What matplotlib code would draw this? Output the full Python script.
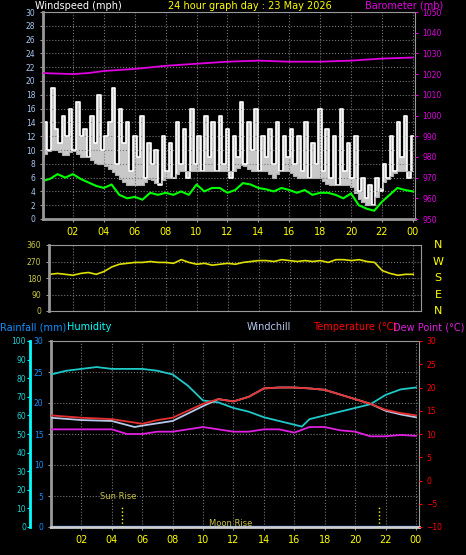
import matplotlib.pyplot as plt
import numpy as np

W, H = 466, 555

# ---- data ----
hours_lbl = ['02', '04', '06', '08', '10', '12', '14', '16', '18', '20', '22', '00']

gust = [12, 14, 10, 19, 13, 11, 15, 12, 16, 10, 17, 12,
        13, 9, 15, 11, 18, 10, 12, 14, 19, 8, 16, 11,
        14, 7, 12, 9, 15, 6, 11, 8,
        10, 5, 12, 7, 11, 6, 14, 8,
        13, 6, 16, 8, 12, 7, 15, 9,
        14, 7, 15, 8, 13, 6, 12, 9,
        17, 8, 14, 10, 16, 7, 12, 9,
        13, 8, 14, 7, 12, 9, 13, 8,
        12, 7, 14, 6, 11, 8, 16, 7,
        13, 6, 12, 5, 16, 7, 11, 6,
        12, 4, 6, 3, 5, 2, 6, 4,
        8, 6, 12, 7, 14, 9, 15, 6, 12]
# lower edge of the white gust band, half-hourly
gust_low = [9, 10, 10, 9, 10, 9, 9, 8, 8, 7, 6, 5, 5, 5, 6, 5, 6, 6, 7, 7, 7, 7, 7, 7,
            7, 7, 8, 7, 7, 7, 6, 7, 7, 6, 6, 6, 6, 5, 5, 5, 5, 3, 2, 2, 5, 6, 7, 7, 7]
wind_avg = [5.5, 5.8, 6.5, 6, 6.5, 5.8, 5.3, 4.8, 4.5, 5, 3.5, 3, 3.2, 2.8, 3.8, 3.5,
            3.8, 3.5, 4, 3.5, 5, 4, 4.5, 4.5, 3.8, 4.2, 5.2, 5, 4.5, 4.3, 4, 4.5,
            4.2, 3.8, 4.2, 3.5, 3.8, 3.8, 3.5, 3, 3.7, 2, 1.5, 1.2, 2.5, 3.5, 4.5, 4.2, 4]
baro_h = [0, 2, 3, 4, 6, 8, 10, 12, 14, 16, 18, 20, 22, 24]
baro = [1020.5, 1020, 1020.5, 1021.5, 1022.5, 1024, 1025, 1026, 1026.5, 1026, 1026, 1026.5, 1027.5, 1028]

wdir = [190, 200, 205, 200, 195, 205, 210, 200, 215, 240, 255, 260, 265, 265, 270, 265,
        265, 260, 280, 265, 255, 260, 250, 255, 260, 255, 265, 270, 275, 275, 270, 280,
        275, 270, 275, 270, 275, 265, 280, 280, 275, 280, 270, 265, 220, 205, 195, 200, 200]

hum_h = [0, 1, 2, 3, 4, 5, 6, 7, 8, 9, 10, 11, 12, 13, 14, 15, 16, 16.5, 17, 18, 19, 20, 21, 22, 23, 24]
hum = [82, 84, 85, 86, 85, 85, 85, 84, 82, 76, 68, 67, 64, 62, 59, 57, 55, 54, 58, 60, 62, 64, 66, 71, 74, 75]
temp_h = [0, 2, 4, 6, 7, 8, 9, 10, 11, 12, 13, 14, 15, 16, 17, 18, 19, 20, 21, 22, 23, 24]
temp = [14, 13.5, 13.2, 12.2, 13, 13.5, 15, 16.5, 17.5, 17, 18, 19.8, 20, 20, 19.8, 19.5, 18.5, 17.5, 16.5, 15.2, 14.5, 14]
chill_h = [0, 2, 4, 5.5, 6, 8, 10, 11, 12, 13, 14, 15, 16, 17, 18, 19, 20, 21, 22, 23, 24]
chill = [13.5, 13, 12.8, 11.5, 11.8, 12.8, 16, 17.5, 17, 18, 19.8, 20, 20, 19.8, 19.5, 18.5, 17.5, 16.5, 15, 14.2, 13.6]
dew_h = [0, 2, 4, 5, 6, 7, 8, 9, 10, 11, 12, 13, 14, 15, 16, 17, 18, 19, 20, 21, 22, 23, 24]
dew = [11, 11, 11, 10, 10, 10.5, 10.5, 11, 11.5, 11, 10.5, 10.5, 11, 11, 10.3, 11.5, 11.5, 10.8, 10.5, 9.5, 9.5, 9.8, 9.6]
rain = [0, 0]
sunrise, moonrise = 4.7, 21.6

fig = plt.figure(figsize=(W / 100, H / 100), dpi=100, facecolor='black')


def box(l, t, r, b):
    return fig.add_axes([l / W, 1 - b / H, (r - l) / W, (b - t) / H], facecolor='black')


def style(ax, col):
    ax.grid(True, color='#777', ls=':', lw=0.8)
    for s in ax.spines.values():
        s.set_color('#999')
    ax.tick_params(colors='#999', labelcolor=col, labelsize=5.5, length=2)


hx = np.arange(2, 25, 2)

# ---- panel 1: wind + barometer ----
a1 = box(43, 12, 415, 219)
style(a1, '#a8c8f0')
a1.set_xlim(0.06, 24.14)
a1.set_ylim(0, 30)
a1.set_yticks(range(0, 31, 2))
a1.set_xticks(hx)
a1.set_xticklabels(hours_lbl, color='yellow', fontsize=7)
a1.spines['left'].set_linewidth(2)
a1.spines['bottom'].set_linewidth(2)
tg = np.linspace(0, 24, len(gust))
low = np.interp(tg, np.linspace(0, 24, len(gust_low)), gust_low)
a1.fill_between(tg, low, gust, step='mid', color='#c8c8c8', lw=0)
a1.step(tg, gust, where='mid', color='white', lw=1.2)
a1.step(tg, low, where='mid', color='#b0b0b0', lw=0.8)
a1.plot(np.linspace(0, 24, len(wind_avg)), wind_avg, color='#00ff00', lw=1.5)
b1 = a1.twinx()
b1.set_ylim(950, 1050)
b1.set_yticks(range(950, 1051, 10))
b1.plot(baro_h, baro, color='#e000e0', lw=1.3)
b1.tick_params(colors='#e000e0', labelcolor='#e000e0', labelsize=5.5, length=2)
for s in b1.spines.values():
    s.set_visible(False)
fig.text(35 / W, 1 - 6 / H, 'Windspeed (mph)', color='white', fontsize=7, va='center')
fig.text(250 / W, 1 - 6 / H, '24 hour graph day : 23 May 2026', color='yellow', fontsize=7, ha='center', va='center')
fig.text(443 / W, 1 - 5 / H, 'Barometer (mb)', color='#e000e0', fontsize=7, ha='right', va='center')

# ---- panel 2: wind direction ----
a2 = box(49, 245, 421, 311)
style(a2, '#c8c840')
a2.set_xlim(0.45, 24.5)
a2.set_ylim(0, 360)
a2.set_yticks([0, 90, 180, 270, 360])
a2.set_xticks(hx)
a2.tick_params(axis='x', labelbottom=False, length=0)
a2.spines['left'].set_linewidth(2)
a2.plot(np.linspace(0, 24, len(wdir)), wdir, color='#e0e000', lw=1.2)
for i, c in enumerate('NWSEN'):
    fig.text(438 / W, 1 - (245 + i * 16.5) / H, c, color='yellow', fontsize=8, ha='center', va='center')

# ---- panel 3: temperature / humidity ----
a3 = box(51, 341, 419, 527)
style(a3, '#1090ff')
a3.set_xlim(0, 24.2)
a3.set_ylim(0, 30)
a3.set_yticks(range(0, 31, 5))
a3.set_xticks(hx)
a3.set_xticklabels(hours_lbl, color='yellow', fontsize=7)
a3.spines['left'].set_linewidth(2)
a3.spines['bottom'].set_color('#ccc')
a3.spines['bottom'].set_linewidth(2)
a3.plot([0, 24.2], rain, color='#1060d0', lw=2.5)
h3 = a3.twinx()
h3.yaxis.tick_left()
h3.spines['left'].set_position(('outward', 15))
h3.spines['left'].set_color('cyan')
h3.spines['left'].set_linewidth(2)
for s in ['right', 'top', 'bottom']:
    h3.spines[s].set_visible(False)
h3.set_ylim(0, 100)
h3.set_yticks(range(0, 101, 10))
h3.tick_params(colors='cyan', labelcolor='#20d0d0', labelsize=5.5, length=2, pad=1)
h3.plot(hum_h, hum, color='#20c8c8', lw=1.3)
t3 = a3.twinx()
t3.set_ylim(-10, 30)
t3.set_yticks(range(-10, 31, 5))
t3.tick_params(colors='red', labelcolor='red', labelsize=5.5, length=2)
for s in t3.spines.values():
    s.set_visible(False)
t3.plot(chill_h, chill, color='#b8c8e8', lw=1.3)
t3.plot(temp_h, temp, color='#e83030', lw=1.3)
t3.plot(dew_h, dew, color='#e020e0', lw=1.3)
a3.vlines([sunrise, moonrise], 0, 3.5, color='yellow', ls=':', lw=1)
a3.text(sunrise - 0.3, 4.5, 'Sun Rise', color='#c8c040', fontsize=6, ha='center')
a3.text(11.8, 0.1, 'Moon Rise', color='#c8c040', fontsize=6, ha='center')
y3 = 1 - 327 / H
fig.text(0, y3, 'Rainfall (mm)', color='#1090ff', fontsize=7, va='center')
fig.text(67 / W, y3, 'Humidity', color='cyan', fontsize=7, va='center')
fig.text(247 / W, y3, 'Windchill', color='#b8c8f0', fontsize=7, va='center')
fig.text(313 / W, y3, 'Temperature (\u00b0C)', color='red', fontsize=7, va='center')
fig.text(393 / W, y3, 'Dew Point (\u00b0C)', color='#e020e0', fontsize=7, va='center')

fig.savefig('out.png', dpi=100, facecolor='black')
